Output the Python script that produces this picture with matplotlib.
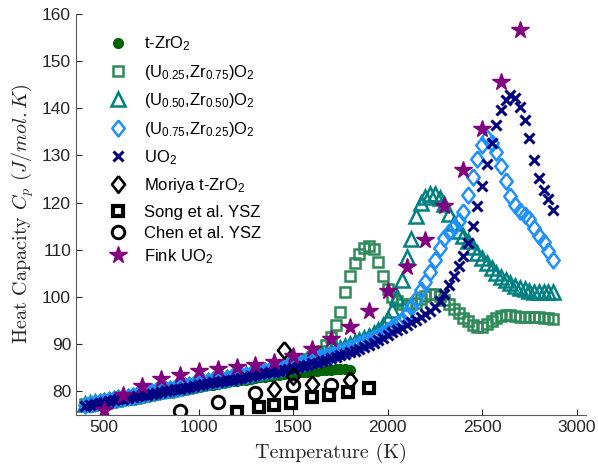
import numpy as np
import matplotlib
matplotlib.use("Agg")
import matplotlib.pyplot as plt

plt.rcParams['font.family'] = ['Liberation Sans', 'DejaVu Sans']
plt.rcParams['mathtext.fontset'] = 'cm'

# ---- data ----
# computed series share one temperature grid, 400 K .. 2875 K every 25 K
T_calc = np.arange(400, 2876, 25)
T_zro2 = np.arange(400, 1801, 25)

cp_tzro2 = [76.9, 77.1, 77.3, 77.5, 77.6, 77.8, 78.0, 78.2, 78.3, 78.5,
            78.7, 78.8, 79.0, 79.2, 79.3, 79.5, 79.7, 79.8, 80.0, 80.2,
            80.3, 80.5, 80.7, 80.8, 81.0, 81.1, 81.3, 81.4, 81.6, 81.8,
            81.9, 82.1, 82.2, 82.4, 82.5, 82.7, 82.8, 83.0, 83.1, 83.3,
            83.4, 83.5, 83.7, 83.8, 83.9, 84.0, 84.1, 84.2, 84.3, 84.4,
            84.5, 84.6, 84.6, 84.7, 84.7, 84.7, 84.6]

cp_u25 = [77.3, 77.5, 77.7, 77.8, 78.0, 78.2, 78.4, 78.6, 78.7, 78.9,
          79.1, 79.3, 79.5, 79.6, 79.8, 80.0, 80.2, 80.3, 80.5, 80.7,
          80.9, 81.1, 81.3, 81.5, 81.6, 81.8, 82.0, 82.2, 82.3, 82.5,
          82.7, 82.8, 83.0, 83.2, 83.4, 83.6, 83.8, 84.0, 84.2, 84.4,
          84.6, 84.8, 85.0, 85.3, 85.6, 85.9, 86.3, 86.8, 87.3, 87.9,
          88.6, 89.8, 91.5, 94.0, 96.9, 101.0, 104.5, 107.2, 109.0, 110.3,
          110.7, 110.1, 107.5, 104.5, 101.6, 100.0, 99.1, 98.5, 98.3, 98.4,
          98.8, 99.5, 100.2, 100.6, 100.7, 100.3, 99.4, 98.4, 97.4, 96.5,
          95.6, 94.8, 94.0, 93.6, 93.7, 94.2, 94.8, 95.5, 95.9, 96.1,
          96.1, 95.9, 95.8, 95.8, 95.8, 95.8, 95.7, 95.6, 95.5, 95.4]

cp_u50 = [77.3, 77.5, 77.7, 77.8, 78.0, 78.2, 78.4, 78.6, 78.7, 78.9,
          79.1, 79.3, 79.5, 79.6, 79.8, 80.0, 80.2, 80.3, 80.5, 80.7,
          80.9, 81.1, 81.3, 81.5, 81.7, 81.9, 82.1, 82.3, 82.4, 82.6,
          82.8, 83.0, 83.2, 83.4, 83.6, 83.8, 84.0, 84.2, 84.4, 84.6,
          84.8, 85.0, 85.2, 85.5, 85.7, 86.0, 86.3, 86.6, 86.9, 87.2,
          87.6, 87.9, 88.3, 88.7, 89.1, 89.5, 90.0, 90.4, 90.9, 91.3,
          91.8, 92.3, 93.0, 94.0, 95.4, 97.3, 100.0, 103.5, 108.5, 112.3,
          117.2, 120.0, 121.2, 121.7, 121.8, 121.0, 119.7, 117.5, 115.6, 114.0,
          112.9, 111.8, 110.6, 109.4, 108.2, 107.1, 106.1, 105.1, 104.3, 103.6,
          103.0, 102.4, 101.9, 101.6, 101.3, 101.1, 101.0, 101.0, 101.0, 101.1]

cp_u75 = [77.2, 77.4, 77.6, 77.7, 77.9, 78.1, 78.3, 78.5, 78.6, 78.8,
          79.0, 79.2, 79.4, 79.6, 79.8, 80.0, 80.2, 80.3, 80.5, 80.7,
          80.9, 81.1, 81.3, 81.5, 81.7, 81.9, 82.1, 82.3, 82.4, 82.6,
          82.8, 83.0, 83.2, 83.4, 83.5, 83.7, 83.9, 84.1, 84.3, 84.5,
          84.7, 84.9, 85.1, 85.3, 85.5, 85.8, 86.0, 86.3, 86.6, 86.9,
          87.2, 87.5, 87.8, 88.1, 88.5, 88.8, 89.2, 89.6, 90.0, 90.4,
          90.8, 91.3, 91.8, 92.4, 93.0, 93.6, 94.3, 95.2, 96.3, 97.8,
          99.6, 101.4, 103.2, 105.3, 107.8, 110.4, 112.5, 113.8, 114.8, 116.0,
          118.0, 121.5, 125.5, 129.2, 132.2, 133.6, 132.5, 130.6, 127.8, 124.5,
          121.3, 119.4, 118.2, 117.3, 116.4, 114.7, 113.0, 111.6, 109.8, 107.8]

cp_uo2 = [77.0, 77.2, 77.4, 77.5, 77.7, 77.9, 78.1, 78.3, 78.4, 78.6,
          78.8, 79.0, 79.2, 79.3, 79.5, 79.7, 79.9, 80.0, 80.2, 80.4,
          80.6, 80.8, 81.0, 81.2, 81.3, 81.5, 81.7, 81.9, 82.0, 82.2,
          82.4, 82.5, 82.7, 82.9, 83.0, 83.2, 83.4, 83.6, 83.8, 84.0,
          84.1, 84.3, 84.5, 84.7, 84.9, 85.1, 85.4, 85.6, 85.9, 86.1,
          86.4, 86.7, 87.0, 87.3, 87.6, 87.9, 88.3, 88.6, 89.0, 89.4,
          89.8, 90.3, 90.8, 91.3, 91.9, 92.5, 93.0, 93.5, 94.0, 94.6,
          95.1, 95.7, 96.3, 97.0, 97.9, 99.1, 100.7, 102.5, 104.4, 106.5,
          108.7, 111.5, 115.0, 119.2, 123.6, 128.2, 132.5, 136.5, 139.6, 141.7,
          142.8, 142.2, 140.3, 137.5, 133.7, 129.0, 125.2, 122.7, 120.8, 118.5]

# experimental points
T_moriya = [1400, 1450, 1500, 1600, 1800]
cp_moriya = [80.6, 88.7, 83.2, 81.5, 82.3]

T_song = [1200, 1320, 1400, 1490, 1600, 1690, 1790, 1900]
cp_song = [75.6, 76.7, 77.1, 77.6, 78.9, 79.2, 79.9, 80.8]

T_chen = [900, 1100, 1300, 1500, 1700]
cp_chen = [75.8, 77.8, 79.6, 81.3, 81.3]

T_fink = [500, 600, 700, 800, 900, 1000, 1100, 1200, 1300, 1400, 1500, 1600,
          1700, 1800, 1900, 2000, 2100, 2200, 2300, 2400, 2500, 2600, 2700]
cp_fink = [76.1, 79.2, 81.2, 82.6, 83.5, 84.3, 84.7, 85.1, 85.6, 86.3, 87.4, 88.9,
           91.0, 93.6, 97.0, 101.2, 106.4, 112.1, 119.2, 126.8, 135.6, 145.5, 156.6]

labels = ['t-ZrO$\\mathregular{_2}$',
          '(U$\\mathregular{_{0.25}}$,Zr$\\mathregular{_{0.75}}$)O$\\mathregular{_2}$',
          '(U$\\mathregular{_{0.50}}$,Zr$\\mathregular{_{0.50}}$)O$\\mathregular{_2}$',
          '(U$\\mathregular{_{0.75}}$,Zr$\\mathregular{_{0.25}}$)O$\\mathregular{_2}$',
          'UO$\\mathregular{_2}$',
          'Moriya t-ZrO$\\mathregular{_2}$',
          'Song et al. YSZ',
          'Chen et al. YSZ',
          'Fink UO$\\mathregular{_2}$']

# slightly tall diamond like the matlab one
diamond = [(0, 1), (0.78, 0), (0, -1), (-0.78, 0), (0, 1)]

fig = plt.figure(figsize=(5.98, 4.71), dpi=100)
ax = fig.add_axes([0.127, 0.119, 0.853, 0.852])

h = []
h += ax.plot(T_zro2, cp_tzro2, 'o', color='#006400', ms=7, label=labels[0])
h += ax.plot(T_calc, cp_u25, 's', mfc='none', mec='#2E8B57', ms=7.5, mew=1.8, label=labels[1])
h += ax.plot(T_calc, cp_u50, '^', mfc='none', mec='#008080', ms=10, mew=1.8, label=labels[2])
h += ax.plot(T_calc, cp_u75, marker=diamond, ls='none', mfc='none', mec='#1E90FF', ms=11.5,
             mew=1.8, label=labels[3])
h += ax.plot(T_calc, cp_uo2, 'x', color='#000080', ms=6.5, mew=2.2, label=labels[4])
h += ax.plot(T_moriya, cp_moriya, marker=diamond, ls='none', mfc='none', mec='black', ms=12,
             mew=1.9, label=labels[5])
h += ax.plot(T_song, cp_song, 's', mfc='none', mec='black', ms=7, mew=3, label=labels[6])
h += ax.plot(T_chen, cp_chen, 'o', mfc='none', mec='black', ms=9, mew=2.1, label=labels[7])
h += ax.plot(T_fink, cp_fink, '*', color='#800080', ms=13, label=labels[8])

ax.set_xlim(350, 3050)
ax.set_ylim(75, 160)
ax.set_xticks(np.arange(500, 3001, 500))
ax.set_yticks(np.arange(80, 161, 10))

for s in ['top', 'right']:
    ax.spines[s].set_visible(False)
for s in ['left', 'bottom']:
    ax.spines[s].set_color('#5a5a5a')
    ax.spines[s].set_linewidth(0.8)
ax.tick_params(direction='in', length=4, width=0.8, color='#262626',
               labelsize=12.5, labelcolor='#262626')

ax.set_xlabel('Temperature (K)', fontfamily='cmr10', fontsize=14.5, color='#262626',
              labelpad=6)
ax.set_ylabel('Heat Capacity $C_p$ $(J/mol.K)$', fontfamily='cmr10', fontsize=14.5,
              color='#262626')

# legend in two blocks: the plain-text entries sit closer together in the original
leg_kw = dict(loc='upper left', frameon=False, fontsize=12, handletextpad=0.75,
              borderaxespad=0.0, handlelength=1.6)
leg1 = ax.legend(handles=h[:6], bbox_to_anchor=(0.043, 0.965), labelspacing=0.57, **leg_kw)
ax.add_artist(leg1)
ax.legend(handles=h[6:], bbox_to_anchor=(0.043, 0.54), labelspacing=0.36, **leg_kw)

fig.savefig('out.png', dpi=100)
